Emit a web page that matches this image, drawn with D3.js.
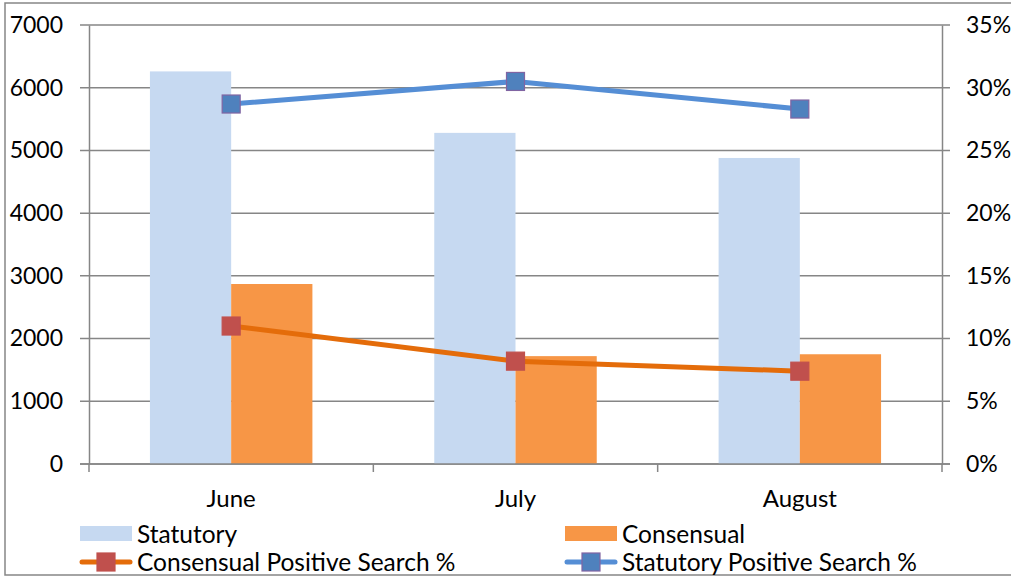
<!DOCTYPE html>
<html>
<head>
<meta charset="utf-8">
<script src="https://cdn.jsdelivr.net/npm/d3@7/dist/d3.min.js"></script>
<style>
  html, body { margin: 0; padding: 0; background: #fff; }
  svg { display: block; font-family: Lato, "Open Sans", sans-serif; }
</style>
</head>
<body>
<svg id="chart" width="1011" height="577"></svg>
<script>
// Monthly search counts and positive-search rates
const months = ["June", "July", "August"];
const statutory = [6260, 5280, 4880];
const consensual = [2870, 1720, 1750];
const consensualPct = [0.110, 0.082, 0.074];
const statutoryPct = [0.287, 0.305, 0.283];
const leftTicks = [0, 1000, 2000, 3000, 4000, 5000, 6000, 7000];
const rightTicks = [0, 0.05, 0.10, 0.15, 0.20, 0.25, 0.30, 0.35];

const svg = d3.select("#chart");
const plot = { left: 89, right: 942, top: 25, bottom: 464 };
const grey = "#868686";

// Outer frame
svg.append("rect")
  .attr("x", 5).attr("y", 3).attr("width", 1020).attr("height", 572)
  .attr("fill", "none").attr("stroke", grey).attr("stroke-width", 1.5);

const x = d3.scaleBand().domain(months).range([plot.left, plot.right]);
const yL = d3.scaleLinear().domain([0, 7000]).range([plot.bottom, plot.top]);
const yR = d3.scaleLinear().domain([0, 0.35]).range([plot.bottom, plot.top]);

// Gridlines
svg.append("g").selectAll("line").data(leftTicks).join("line")
  .attr("x1", plot.left - 9).attr("x2", plot.right + 8)
  .attr("y1", d => yL(d)).attr("y2", d => yL(d))
  .attr("stroke", grey).attr("stroke-width", 1.5);

// Left axis
const leftAxis = svg.append("g").attr("transform", `translate(${plot.left},0)`)
  .call(d3.axisLeft(yL).tickValues(leftTicks).tickSize(0).tickPadding(26).tickFormat(d3.format("d")));
leftAxis.select(".domain").attr("stroke", grey).attr("stroke-width", 1.5);
leftAxis.selectAll("text").attr("font-size", 23).attr("fill", "#000").attr("font-family", "Lato, sans-serif");

// Right axis
const rightAxis = svg.append("g").attr("transform", `translate(${plot.right},0)`)
  .call(d3.axisRight(yR).tickValues(rightTicks).tickSize(0).tickPadding(24).tickFormat(d3.format(".0%")));
rightAxis.select(".domain").attr("stroke", grey).attr("stroke-width", 1.5);
rightAxis.selectAll("text").attr("font-size", 23).attr("fill", "#000").attr("font-family", "Lato, sans-serif");

// Bottom axis with category boundaries as ticks
const bottomAxis = svg.append("g").attr("transform", `translate(0,${plot.bottom})`)
  .call(d3.axisBottom(x).tickSize(0).tickPadding(26));
bottomAxis.select(".domain").remove();
bottomAxis.selectAll("text").attr("font-size", 24).attr("fill", "#000").attr("font-family", "Lato, sans-serif");
const bounds = months.map(m => x(m)).concat([x(months[months.length - 1]) + x.bandwidth()]);
svg.append("g").selectAll("line").data(bounds).join("line")
  .attr("x1", d => d).attr("x2", d => d)
  .attr("y1", plot.bottom).attr("y2", plot.bottom + 8)
  .attr("stroke", grey).attr("stroke-width", 1.5);

// Bars
const inner = d3.scaleBand().domain(["s", "c"]).range([0, x.bandwidth()]).paddingOuter(0.75).paddingInner(0);
const bars = svg.append("g");
bars.selectAll(".stat").data(months).join("rect")
  .attr("x", (m) => x(m) + inner("s"))
  .attr("width", inner.bandwidth())
  .attr("y", (m, i) => yL(statutory[i]))
  .attr("height", (m, i) => plot.bottom - yL(statutory[i]))
  .attr("fill", "#C6D9F1");
bars.selectAll(".cons").data(months).join("rect")
  .attr("x", (m) => x(m) + inner("c"))
  .attr("width", inner.bandwidth())
  .attr("y", (m, i) => yL(consensual[i]))
  .attr("height", (m, i) => plot.bottom - yL(consensual[i]))
  .attr("fill", "#F79646");

// Redraw the zero line over the bars
svg.append("line").attr("x1", plot.left - 9).attr("x2", plot.right + 8)
  .attr("y1", yL(0)).attr("y2", yL(0)).attr("stroke", grey).attr("stroke-width", 1.5);

const cx = m => x(m) + x.bandwidth() / 2;

function drawSeries(values, lineColor, fill, stroke) {
  const line = d3.line().x((d, i) => cx(months[i])).y(d => yR(d));
  svg.append("path").datum(values).attr("d", line)
    .attr("fill", "none").attr("stroke", lineColor).attr("stroke-width", 5)
    .attr("stroke-linecap", "round").attr("stroke-linejoin", "round");
  svg.append("g").selectAll("rect").data(values).join("rect")
    .attr("x", (d, i) => cx(months[i]) - 9).attr("y", d => yR(d) - 9)
    .attr("width", 18).attr("height", 18)
    .attr("fill", fill).attr("stroke", stroke).attr("stroke-width", 1.2);
}
drawSeries(consensualPct, "#E46C0A", "#C0504D", "#C0504D");
drawSeries(statutoryPct, "#558ED5", "#4F81BD", "#8064A2");

// Legend
const legend = svg.append("g").attr("font-size", 24.5).attr("fill", "#000");
function barKey(xp, yp, color, label) {
  legend.append("rect").attr("x", xp).attr("y", yp - 8).attr("width", 52).attr("height", 15).attr("fill", color);
  legend.append("text").attr("x", xp + 57).attr("y", yp).attr("dy", "0.35em").text(label);
}
function lineKey(xp, yp, lineColor, fill, stroke, label) {
  legend.append("line").attr("x1", xp + 2).attr("x2", xp + 50).attr("y1", yp).attr("y2", yp)
    .attr("stroke", lineColor).attr("stroke-width", 5).attr("stroke-linecap", "round");
  legend.append("rect").attr("x", xp + 26 - 9).attr("y", yp - 9).attr("width", 18).attr("height", 18)
    .attr("fill", fill).attr("stroke", stroke).attr("stroke-width", 1.2);
  legend.append("text").attr("x", xp + 57).attr("y", yp).attr("dy", "0.35em").text(label);
}
barKey(80, 534, "#C6D9F1", "Statutory");
barKey(565, 534, "#F79646", "Consensual");
lineKey(80, 562, "#E46C0A", "#C0504D", "#C0504D", "Consensual Positive Search %");
lineKey(565, 562, "#558ED5", "#4F81BD", "#8064A2", "Statutory Positive Search %");
</script>
</body>
</html>
